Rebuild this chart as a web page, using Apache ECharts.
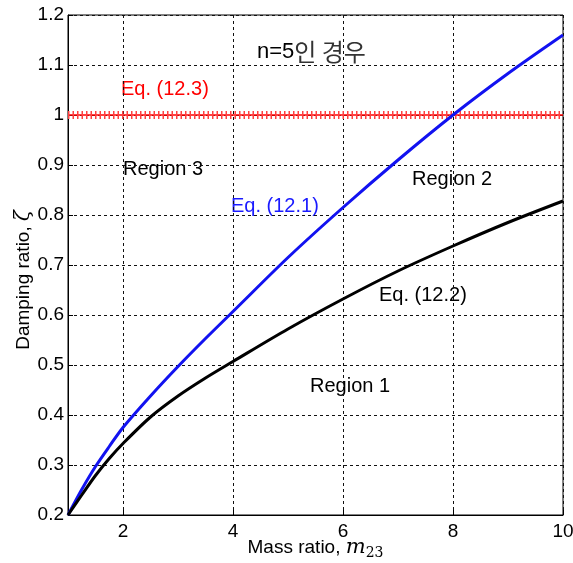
<!DOCTYPE html>
<html>
<head>
<meta charset="utf-8">
<script src="https://cdn.jsdelivr.net/npm/echarts@6/dist/echarts.min.js"></script>
<style>
  html, body { margin: 0; padding: 0; background: #fff; }
  #chart { width: 573px; height: 563px; }
</style>
</head>
<body>
<div id="chart"></div>
<script>
// mass ratio samples
var massRatio = [1, 1.25, 1.5, 1.75, 2, 2.5, 3, 3.5, 4, 5, 6, 7, 8, 9, 10];
// Eq. (12.1) - blue
var eq121 = [0.2, 0.251, 0.297, 0.337, 0.375, 0.438, 0.497, 0.553, 0.607, 0.715, 0.815, 0.91, 1.0, 1.083, 1.16];
// Eq. (12.2) - black
var eq122 = [0.2, 0.24, 0.279, 0.313, 0.343, 0.396, 0.438, 0.474, 0.507, 0.572, 0.632, 0.688, 0.738, 0.785, 0.828];
// Eq. (12.3) - red, constant
var eq123X = [1, 10];
var eq123 = [1, 1];
var xTicks = [2, 4, 6, 8, 10];

function pairs(xs, ys) {
  var out = [];
  for (var i = 0; i < xs.length; i++) out.push([xs[i], ys[i]]);
  return out;
}

var chart = echarts.init(document.getElementById('chart'));
var font = 'Liberation Sans, Arial, sans-serif';

// annotation text, top = cap top - 4 approx
function note(txt, left, top, color) {
  return { type: 'text', left: left, top: top, style: { text: txt, fontSize: 20, fontFamily: font, fill: color } };
}

var option = {
  animation: false,
  backgroundColor: '#fff',
  grid: {
    left: 68, right: 10, top: 15, bottom: 48,
    outerBoundsMode: 'none',
    containLabel: false,
    show: true, borderColor: '#000', borderWidth: 1
  },
  xAxis: {
    type: 'value',
    min: 1, max: 10,
    axisLine: { show: true, lineStyle: { color: '#000' } },
    axisTick: { show: true, inside: true, length: 5, customValues: xTicks, lineStyle: { color: '#000' } },
    axisLabel: { customValues: xTicks, color: '#000', fontSize: 19, fontFamily: font, margin: 7 },
    splitLine: { show: true, lineStyle: { color: '#111', type: [3, 3], width: 1 } },
    name: 'Mass ratio, {m|m}{s|23}',
    nameLocation: 'middle',
    nameGap: 21,
    nameMoveOverlap: false,
    nameTextStyle: {
      color: '#000', fontSize: 19, fontFamily: font,
      rich: {
        m: { fontFamily: 'DejaVu Serif, serif', fontStyle: 'italic', fontSize: 21, color: '#000' },
        s: { fontFamily: 'DejaVu Serif, serif', fontSize: 14, color: '#000', padding: [10, 0, 0, 0] }
      }
    }
  },
  yAxis: {
    type: 'value',
    min: 0.2, max: 1.2, interval: 0.1,
    axisLine: { show: true, lineStyle: { color: '#000' } },
    axisTick: { show: true, inside: true, length: 5, lineStyle: { color: '#000' } },
    axisLabel: {
      color: '#000', fontSize: 19, fontFamily: font, margin: 4,
      formatter: function (v) { return String(Math.round(v * 10) / 10); }
    },
    splitLine: { show: true, lineStyle: { color: '#111', type: [3, 3], width: 1 } },
    name: 'Damping ratio, {z|ζ}',
    nameLocation: 'middle',
    nameGap: 34,
    nameRotate: 90,
    nameMoveOverlap: false,
    nameTextStyle: {
      color: '#000', fontSize: 19, fontFamily: font, padding: [0, 30, 0, 0],
      rich: { z: { fontFamily: 'DejaVu Serif, serif', fontStyle: 'italic', fontSize: 20, color: '#000' } }
    }
  },
  series: [
    {
      type: 'line', data: pairs(eq123X, eq123), symbol: 'none',
      lineStyle: { color: '#ff0000', width: 1.5 }, z: 3
    },
    {
      type: 'line', data: pairs(eq123X, eq123), symbol: 'none',
      lineStyle: { color: '#ff4040', width: 8, type: [1.5, 3], cap: 'butt' }, z: 3
    },
    {
      type: 'line', data: pairs(massRatio, eq121), symbol: 'none', smooth: 0.3,
      lineStyle: { color: '#1212f0', width: 3 }, z: 4
    },
    {
      type: 'line', data: pairs(massRatio, eq122), symbol: 'none', smooth: 0.3,
      lineStyle: { color: '#000', width: 3 }, z: 4
    }
  ],
  graphic: [
    {
      type: 'text', left: 257, top: 40,
      style: {
        text: '{a|n=5}{k|인 경우}',
        rich: {
          a: { fontSize: 22, fontFamily: font, fill: '#000', color: '#000' },
          k: { fontSize: 24, fontFamily: 'Noto Sans CJK KR', fill: '#333', color: '#333' }
        }
      }
    },
    note('Eq. (12.3)', 121, 79, '#ff0000'),
    note('Region 3', 123, 159, '#000'),
    note('Eq. (12.1)', 231, 196, '#1a1aff'),
    note('Region 2', 412, 169, '#000'),
    note('Eq. (12.2)', 379, 285, '#000'),
    note('Region 1', 310, 376, '#000')
  ]
};

chart.setOption(option);
</script>
</body>
</html>
